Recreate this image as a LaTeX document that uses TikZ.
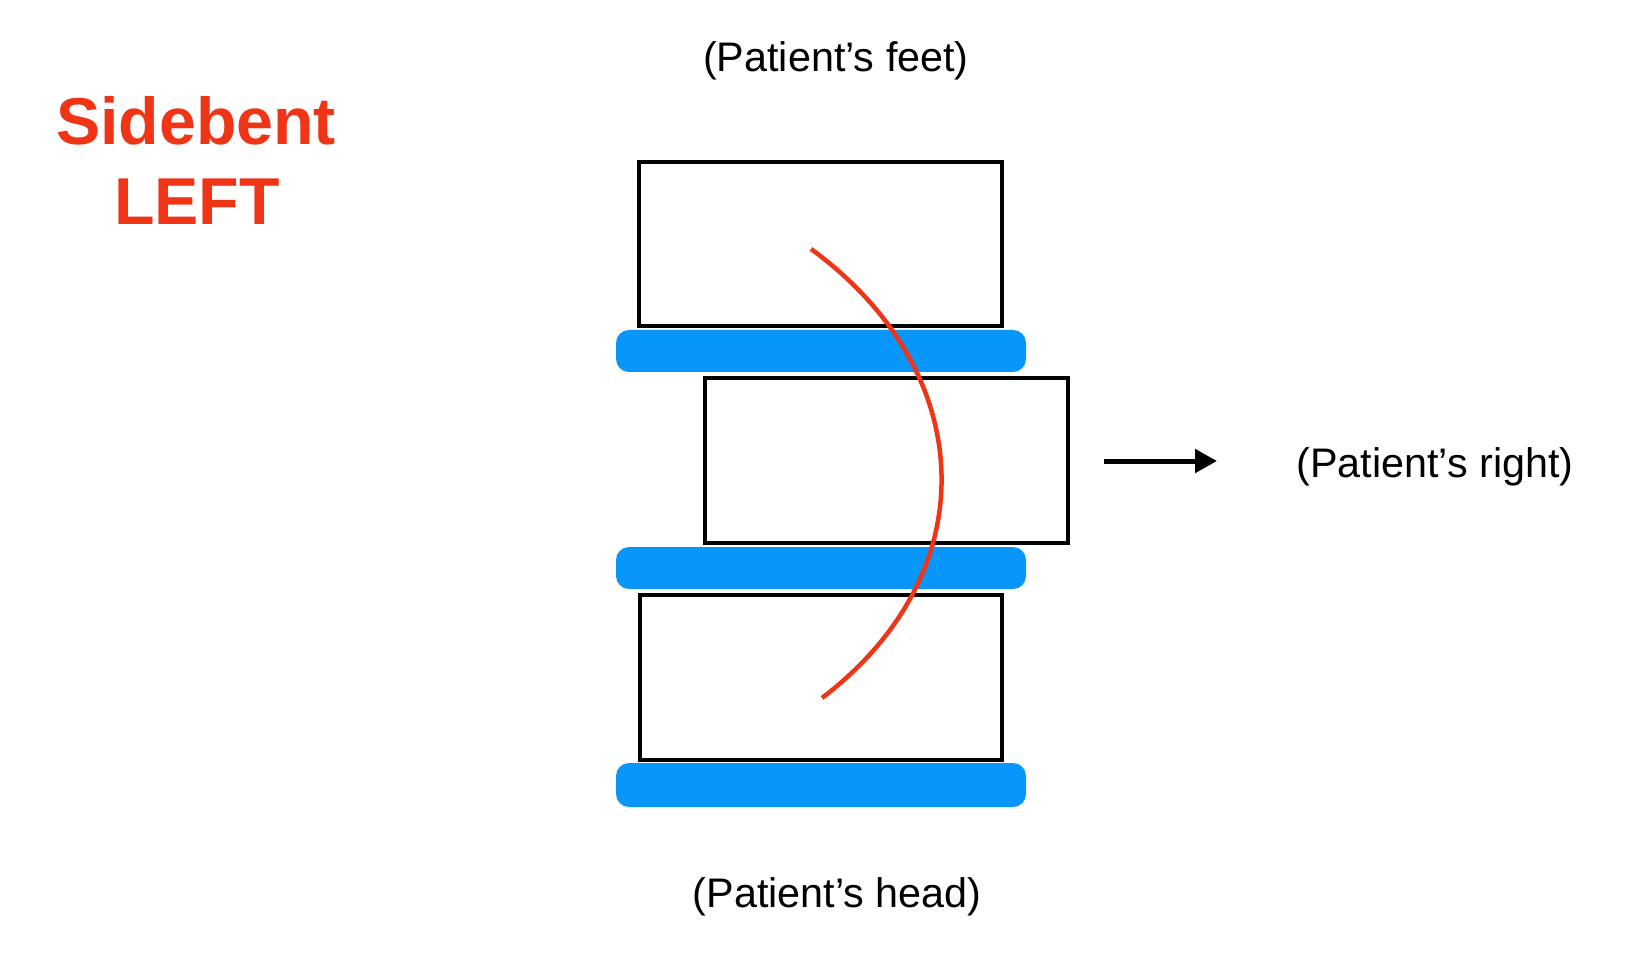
\documentclass[tikz,border=0pt]{standalone}
\usepackage{fontspec}
\setmainfont{Liberation Sans}
\usetikzlibrary{arrows.meta}
\definecolor{bentred}{RGB}{240,52,22}
\definecolor{discblue}{RGB}{8,150,250}
\begin{document}
\begin{tikzpicture}[x=1pt,y=-1pt,
  vert/.style={draw=black,line width=4pt},
  disc/.style={fill=discblue,rounded corners=13pt},
  lbl/.style={anchor=base,font=\fontsize{41.3}{48}\selectfont,inner sep=0pt},
  titlelbl/.style={anchor=base,font=\fontsize{66.3}{80}\selectfont\bfseries,text=bentred,inner sep=0pt},
  bendcurve/.style={draw=bentred,line width=4.5pt},
  dirarrow/.style={line width=5pt,-{Triangle[length=22pt,width=23pt]}}]
\fill[white] (0,0) rectangle (1630,957);
\useasboundingbox (0,0) rectangle (1630,957);
% vertebrae
\draw[vert] (639,162) rectangle (1002,326);
\draw[vert] (705,378) rectangle (1068,543);
\draw[vert] (640,595) rectangle (1002,760);
% discs
\fill[disc] (616,330) rectangle (1026,372);
\fill[disc] (616,547) rectangle (1026,589);
\fill[disc] (616,763) rectangle (1026,807);
% curve
\coordinate (cs) at (811,249);
\coordinate (ce) at (822,698);
\draw[bendcurve] (cs) .. controls (976,369) and (990,570) .. (ce);
% arrow
\coordinate (as) at (1104,461);
\coordinate (ae) at (1217,461);
\draw[dirarrow] (as) -- (ae);
% labels
\node[lbl] (feet) at (836,72) {(Patient’s feet)};
\node[lbl] (head) at (837,907) {(Patient’s head)};
\node[lbl] (right) at (1435,477) {(Patient’s right)};
\node[titlelbl] (t1) at (196,145) {Sidebent};
\node[titlelbl] (t2) at (197,225) {LEFT};
\end{tikzpicture}
\end{document}
